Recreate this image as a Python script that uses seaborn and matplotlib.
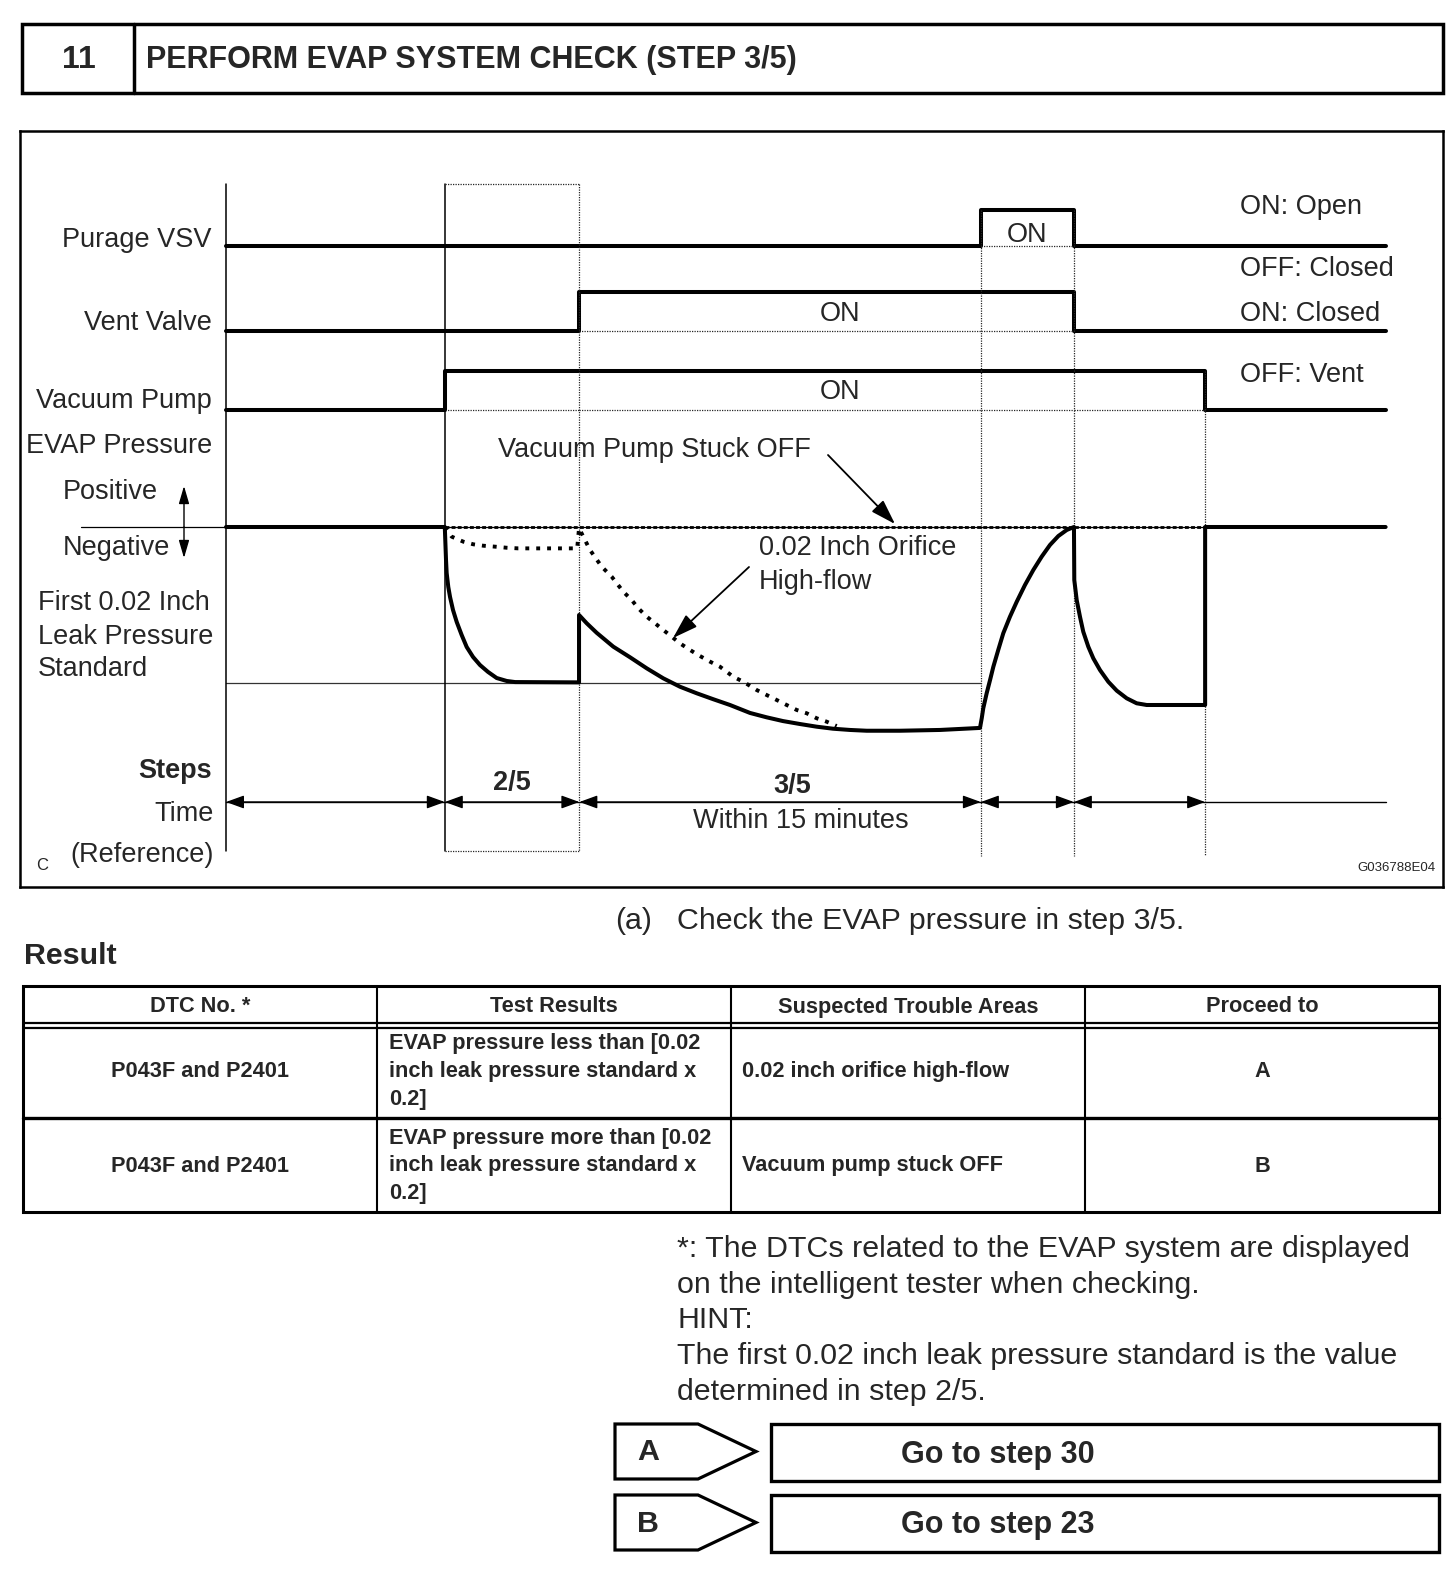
import numpy as np
import pandas as pd
import matplotlib
matplotlib.use("Agg")
import matplotlib.pyplot as plt
import seaborn as sns
from matplotlib.patches import Rectangle, Polygon

sns.set_theme(style="white")
plt.rcParams['font.family'] = ['Liberation Sans', 'DejaVu Sans']

# ------------------------------------------------------------------ data
STEP_NO = "11"
TITLE = "PERFORM EVAP SYSTEM CHECK (STEP 3/5)"

# time edges of the phases (arbitrary time units)
TIME_EDGES = [0.0, 2.0, 3.23, 6.9, 7.75, 8.95, 10.6]
SIGNAL_NAMES = ["Purage VSV", "Vent Valve", "Vacuum Pump"]
PURGE_STATE = [0, 0, 0, 1, 0, 0]
VENT_STATE = [0, 0, 1, 1, 0, 0]
PUMP_STATE = [0, 1, 1, 1, 1, 0]
STATE_LEGEND = ["ON: Open", "OFF: Closed", "ON: Closed", "OFF: Vent"]

# EVAP pressure (relative, 0 = atmospheric, -1 = first 0.02 inch leak standard)
PRESSURE_T = [0.0, 2.0, 2.011, 2.017, 2.032, 2.048, 2.075, 2.109, 2.154, 2.200, 2.258,
              2.322, 2.395, 2.474, 2.566, 2.642, 3.227,
              3.227, 3.297, 3.388, 3.540, 3.693, 3.846, 3.997, 4.150, 4.303, 4.454,
              4.607, 4.790, 4.942, 5.091, 5.247, 5.399, 5.548, 5.704, 5.856, 6.161,
              6.527, 6.892,
              6.908, 6.922, 6.953, 6.984, 7.014, 7.059, 7.105, 7.166, 7.228, 7.303,
              7.379, 7.456, 7.532, 7.608, 7.685, 7.751,
              7.754, 7.776, 7.806, 7.836, 7.882, 7.928, 7.989, 8.065, 8.142, 8.233,
              8.324, 8.416, 8.95, 8.95, 10.6]
PRESSURE_P = [0.0, 0.0, -0.21, -0.295, -0.385, -0.449, -0.532, -0.609, -0.692, -0.769, -0.833,
              -0.885, -0.929, -0.968, -0.987, -0.994, -0.996,
              -0.564, -0.617, -0.678, -0.767, -0.835, -0.906, -0.970, -1.024, -1.066, -1.104,
              -1.141, -1.192, -1.220, -1.244, -1.263, -1.280, -1.293, -1.301, -1.306, -1.306,
              -1.301, -1.288,
              -1.226, -1.162, -1.066, -0.981, -0.896, -0.788, -0.681, -0.575, -0.479, -0.372,
              -0.276, -0.190, -0.115, -0.058, -0.019, 0.0,
              -0.340, -0.468, -0.575, -0.671, -0.767, -0.842, -0.917, -0.992, -1.049, -1.098,
              -1.130, -1.141, -1.141, 0.0, 0.0]
HIGHFLOW_T = [2.0, 2.063, 2.169, 2.261, 2.352, 2.459, 2.566, 2.672, 2.779, 2.977, 3.175,
              3.21, 3.227, 3.266, 3.327, 3.434, 3.526, 3.632, 3.708, 3.769, 3.846, 3.921,
              3.997, 4.074, 4.150, 4.241, 4.317, 4.424, 4.516, 4.637, 4.729, 4.851, 4.942,
              5.034, 5.125, 5.217, 5.308, 5.399, 5.491, 5.582]
HIGHFLOW_P = [0.0, -0.062, -0.094, -0.111, -0.120, -0.126, -0.133, -0.137, -0.137, -0.137, -0.137,
              -0.137, -0.008, -0.062, -0.147, -0.254, -0.319, -0.415, -0.468, -0.521, -0.575, -0.617,
              -0.660, -0.703, -0.746, -0.788, -0.821, -0.863, -0.896, -0.960, -0.992, -1.045, -1.077,
              -1.109, -1.141, -1.173, -1.194, -1.226, -1.248, -1.276]
STUCK_T = [2.0, 8.95]
STUCK_P = [0.0, 0.0]
LEAK_STANDARD = -1.0

STEP_LABELS = ["2/5", "3/5"]
TIME_NOTE = "Within 15 minutes"
FIG_CODE = "G036788E04"

TABLE_HEADERS = ["DTC No. *", "Test Results", "Suspected Trouble Areas", "Proceed to"]
TABLE_DTC = ["P043F and P2401", "P043F and P2401"]
TABLE_RESULTS = [["EVAP pressure less than [0.02", "inch leak pressure standard x", "0.2]"],
                 ["EVAP pressure more than [0.02", "inch leak pressure standard x", "0.2]"]]
TABLE_AREAS = ["0.02 inch orifice high-flow", "Vacuum pump stuck OFF"]
TABLE_PROCEED = ["A", "B"]

NOTE_LINES = ["*: The DTCs related to the EVAP system are displayed",
              "on the intelligent tester when checking.",
              "HINT:",
              "The first 0.02 inch leak pressure standard is the value",
              "determined in step 2/5."]
GOTO_KEYS = ["A", "B"]
GOTO_TEXT = ["Go to step 30", "Go to step 23"]

# ------------------------------------------------------------------ layout
W, H = 1456, 1580
fig = plt.figure(figsize=(W / 100, H / 100), dpi=100)
fig.patch.set_facecolor("white")
pg = fig.add_axes([0, 0, 1, 1])
pg.set_xlim(0, W)
pg.set_ylim(H, 0)
pg.axis("off")

K = "black"
LAB = 19.5     # diagram label size
BODY = 21.9
TAB = 15.7
DY = 3         # baseline nudge for centred text

# header box
pg.add_patch(Rectangle((22, 24), 1421, 69, fill=False, lw=2.5, ec=K))
pg.plot([134, 134], [24, 93], color=K, lw=2.5)
pg.text(79, 57 + DY, STEP_NO, ha="center", va="center", fontsize=23, fontweight="bold")
pg.text(146, 57 + DY, TITLE, ha="left", va="center", fontsize=22, fontweight="bold")

# diagram axes (time units on x, page pixels on y)
BOX = (20, 131, 1443, 887)
X0, PXT = 226.0, 109.4
PY0, PSC = 527.0, 156.0
LANE_BASE = [246, 331, 410]
LANE_AMP = [36, 39, 39]

dax = fig.add_axes([BOX[0] / W, 1 - BOX[3] / H, (BOX[2] - BOX[0]) / W, (BOX[3] - BOX[1]) / H])
dax.set_facecolor("none")


def tx(px):
    return (px - X0) / PXT


def py(p):
    return PY0 - np.asarray(p) * PSC


T = TIME_EDGES
thin = dict(color="0.15", lw=0.9, linestyle=(0, (1, 1)))

# signal lanes
for states, base, amp in zip([PURGE_STATE, VENT_STATE, PUMP_STATE], LANE_BASE, LANE_AMP):
    ys = [base - s * amp for s in states] + [base - states[-1] * amp]
    sns.lineplot(x=T, y=ys, drawstyle="steps-post", estimator=None, sort=False,
                 color=K, linewidth=2.9, ax=dax)
    for i, s in enumerate(states):
        if s:
            dax.plot([T[i], T[i + 1]], [base, base], **thin)

# thin reference lines
dax.plot([tx(81), T[0]], [PY0, PY0], color=K, lw=0.9)
dax.plot([T[0], T[3]], [py(LEAK_STANDARD)] * 2, color="0.2", lw=0.9)
dax.plot([T[0], T[0]], [184, 851], color=K, lw=1.1)
dax.plot([T[1], T[1]], [184, 851], color=K, lw=1.1)
dax.plot([T[1], T[2]], [184, 184], **thin)
dax.plot([T[1], T[2]], [851, 851], **thin)
dax.plot([T[2], T[2]], [184, 851], **thin)
dax.plot([T[3], T[3]], [LANE_BASE[0] - LANE_AMP[0], 856], **thin)
dax.plot([T[4], T[4]], [LANE_BASE[0] - LANE_AMP[0], 856], **thin)
dax.plot([T[5], T[5]], [LANE_BASE[2] - LANE_AMP[2], 856], **thin)

# pressure curves
sns.lineplot(x=STUCK_T, y=py(STUCK_P), estimator=None, sort=False, color=K, lw=0.9, ax=dax)
sns.lineplot(x=STUCK_T, y=py(STUCK_P), estimator=None, sort=False, color=K, lw=2.0,
             linestyle=(0, (1.4, 0.8)), ax=dax)
sns.lineplot(x=HIGHFLOW_T, y=py(HIGHFLOW_P), estimator=None, sort=False, color=K, lw=2.8,
             linestyle=(0, (1, 1.8)), ax=dax)
sns.lineplot(x=PRESSURE_T, y=py(PRESSURE_P), estimator=None, sort=False, color=K, lw=2.9,
             ax=dax)
for ln in dax.get_lines():
    ln.set_solid_joinstyle("round")

# time row with arrows
YT = 802
dax.plot([T[0], T[-1]], [YT, YT], color=K, lw=1.0)
for a, b in zip(T[:-2], T[1:-1]):
    dax.annotate("", xy=(a, YT), xytext=(b, YT),
                 arrowprops=dict(arrowstyle="<|-|>,head_length=1.1,head_width=0.4",
                                 mutation_scale=10, lw=1.0, color=K, shrinkA=0, shrinkB=0))

dax.text((T[1] + T[2]) / 2, 780 + DY, STEP_LABELS[0], ha="center", va="center",
         fontsize=LAB, fontweight="bold")
dax.text(tx(792), 783 + DY, STEP_LABELS[1], ha="center", va="center", fontsize=LAB,
         fontweight="bold")
dax.text(tx(801), 818 + DY, TIME_NOTE, ha="center", va="center", fontsize=LAB)

# ON labels
dax.text((T[3] + T[4]) / 2, 232 + DY, "ON", ha="center", va="center", fontsize=LAB)
dax.text(tx(840), 311 + DY, "ON", ha="center", va="center", fontsize=LAB)
dax.text(tx(840), 389 + DY, "ON", ha="center", va="center", fontsize=LAB)

# annotations
dax.text(tx(654), 447 + DY, "Vacuum Pump Stuck OFF", ha="center", va="center", fontsize=LAB)
dax.annotate("", xy=(tx(895), 524), xytext=(tx(828), 455),
             arrowprops=dict(arrowstyle="-|>,head_length=1.4,head_width=0.45",
                             mutation_scale=11, lw=1.3, color=K, shrinkA=0, shrinkB=0))
dax.text(tx(759), 545 + DY, "0.02 Inch Orifice", ha="left", va="center", fontsize=LAB)
dax.text(tx(759), 579 + DY, "High-flow", ha="left", va="center", fontsize=LAB)
dax.annotate("", xy=(tx(673), 638), xytext=(tx(749), 567),
             arrowprops=dict(arrowstyle="-|>,head_length=1.4,head_width=0.45",
                             mutation_scale=11, lw=1.3, color=K, shrinkA=0, shrinkB=0))

dax.set_xlim((BOX[0] - X0) / PXT, (BOX[2] - X0) / PXT)
dax.set_ylim(BOX[3], BOX[1])
dax.set_xticks([])
dax.set_yticks([])
dax.set(xlabel="", ylabel="")
for s in dax.spines.values():
    s.set_visible(True)
    s.set_color(K)
    s.set_linewidth(1.8)

# left labels
for name, y in zip(SIGNAL_NAMES, [237, 320, 398]):
    pg.text(212, y + DY, name, ha="right", va="center", fontsize=LAB)
pg.text(212, 443 + DY, "EVAP Pressure", ha="right", va="center", fontsize=LAB)
pg.text(63, 489 + DY, "Positive", ha="left", va="center", fontsize=LAB)
pg.text(63, 545 + DY, "Negative", ha="left", va="center", fontsize=LAB)
for line, y in zip(["First 0.02 Inch", "Leak Pressure", "Standard"], [600, 634, 666]):
    pg.text(38, y + DY, line, ha="left", va="center", fontsize=LAB)
pg.text(212, 768 + DY, "Steps", ha="right", va="center", fontsize=LAB, fontweight="bold")
pg.text(214, 811 + DY, "Time", ha="right", va="center", fontsize=LAB)
pg.text(214, 852 + DY, "(Reference)", ha="right", va="center", fontsize=LAB)
pg.text(36, 863 + DY, "C", ha="left", va="center", fontsize=12)
pg.text(1435, 865 + DY, FIG_CODE, ha="right", va="center", fontsize=9.5)
for a, b in [(527, 486), (527, 558)]:
    pg.annotate("", xy=(184, b), xytext=(184, a),
                arrowprops=dict(arrowstyle="-|>,head_length=1.2,head_width=0.35",
                                mutation_scale=9, lw=1.0, color=K, shrinkA=0, shrinkB=0))

# right state legend
for txt, y in zip(STATE_LEGEND, [204, 266, 311, 372]):
    pg.text(1240, y + DY, txt, ha="left", va="center", fontsize=LAB)

# check text
pg.text(615, 918 + DY, "(a)", ha="left", va="center", fontsize=BODY)
pg.text(677, 918 + DY, "Check the EVAP pressure in step 3/5.", ha="left", va="center",
        fontsize=BODY)
pg.text(24, 953 + DY, "Result", ha="left", va="center", fontsize=BODY, fontweight="bold")

# table
COLS = [23, 377, 730.5, 1085, 1439]
ROWS = [986, 1023, 1118, 1212]
pg.add_patch(Rectangle((COLS[0], ROWS[0]), COLS[-1] - COLS[0], ROWS[-1] - ROWS[0],
                       fill=False, lw=2.2, ec=K))
for x in COLS[1:-1]:
    pg.plot([x, x], [ROWS[0], ROWS[-1]], color=K, lw=1.5)
pg.plot([COLS[0], COLS[-1]], [ROWS[1], ROWS[1]], color=K, lw=1.6)
pg.plot([COLS[0], COLS[-1]], [ROWS[1] + 5, ROWS[1] + 5], color=K, lw=1.6)
pg.plot([COLS[0], COLS[-1]], [ROWS[2], ROWS[2]], color=K, lw=2.4)
for i, h in enumerate(TABLE_HEADERS):
    pg.text((COLS[i] + COLS[i + 1]) / 2, 1004 + DY, h, ha="center", va="center",
            fontsize=TAB, fontweight="bold")
for r in range(2):
    yc = (ROWS[r + 1] + ROWS[r + 2]) / 2 + 1
    pg.text((COLS[0] + COLS[1]) / 2, yc, TABLE_DTC[r], ha="center", va="center",
            fontsize=TAB, fontweight="bold")
    for j, line in enumerate(TABLE_RESULTS[r]):
        pg.text(COLS[1] + 12, yc + (j - 1) * 27.5, line, ha="left", va="center",
                fontsize=TAB, fontweight="bold")
    pg.text(COLS[2] + 12, yc, TABLE_AREAS[r], ha="left", va="center",
            fontsize=TAB, fontweight="bold")
    pg.text((COLS[3] + COLS[4]) / 2, yc, TABLE_PROCEED[r], ha="center", va="center",
            fontsize=TAB, fontweight="bold")

# notes
for j, line in enumerate(NOTE_LINES):
    pg.text(677, 1246 + DY + j * 35.7, line, ha="left", va="center", fontsize=BODY)

# go-to boxes
for j, (key, txt) in enumerate(zip(GOTO_KEYS, GOTO_TEXT)):
    top = 1424 + j * 71
    bot = top + 55
    mid = (top + bot) / 2
    pg.add_patch(Polygon([(615, top), (698, top), (756, mid), (698, bot), (615, bot)],
                         closed=True, fill=False, lw=2.3, ec=K, joinstyle="miter"))
    pg.text(648, mid + 1, key, ha="center", va="center", fontsize=BODY, fontweight="bold")
    pg.add_patch(Rectangle((771, top), 668, bot - top + 2, fill=False, lw=2.4, ec=K))
    pg.text(998, mid + DY, txt, ha="center", va="center", fontsize=22, fontweight="bold")

fig.savefig("out.png", dpi=100, facecolor="white")
